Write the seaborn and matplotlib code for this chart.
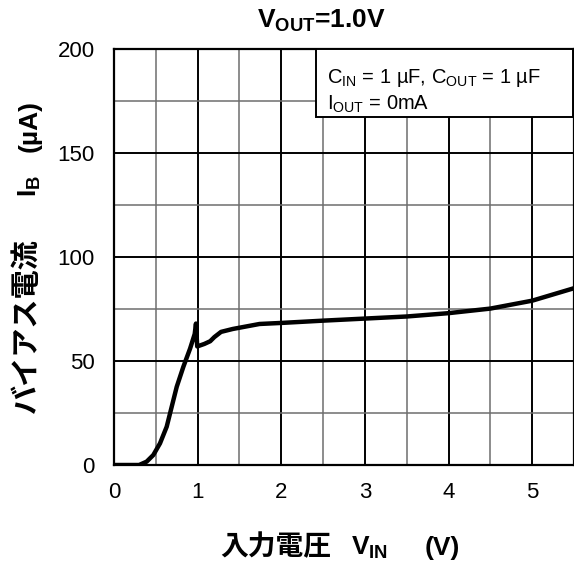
import matplotlib
matplotlib.use("Agg")
import matplotlib.pyplot as plt
import seaborn as sns
import pandas as pd
from matplotlib.ticker import MultipleLocator
from matplotlib.patches import Rectangle

# ---- data ----
vin = [0, 0.3, 0.39, 0.47, 0.55, 0.63, 0.69, 0.75, 0.83, 0.91, 0.965, 0.98, 0.995,
       1.08, 1.15, 1.2, 1.28, 1.42, 1.74, 2.0, 2.5, 3.0, 3.5, 4.0, 4.5, 5.0, 5.5]
ib = [0, 0, 1.6, 4.8, 10.4, 18.4, 28, 37.6, 47.3, 56, 63, 68, 57,
      58.2, 59.5, 61.5, 64, 65.4, 67.8, 68.3, 69.4, 70.4, 71.4, 73, 75.2, 79, 85]
x_ticks = [0, 1, 2, 3, 4, 5]
y_ticks = [0, 50, 100, 150, 200]

sns.set_theme(style="white")
plt.rcParams['font.family'] = ['Liberation Sans', 'DejaVu Sans']
plt.rcParams['mathtext.fontset'] = 'custom'
plt.rcParams['mathtext.rm'] = 'Liberation Sans'
plt.rcParams['mathtext.bf'] = 'Liberation Sans:bold'
plt.rcParams['mathtext.default'] = 'regular'

df = pd.DataFrame({"vin": vin, "ib": ib})

W, H = 574, 565
fig = plt.figure(figsize=(W / 100, H / 100), dpi=100)
ax = fig.add_axes([114 / W, 1 - 465 / H, 460 / W, 416 / H])

sns.lineplot(data=df, x="vin", y="ib", sort=False, ax=ax, color="black",
             linewidth=3.2, zorder=5, solid_joinstyle="round", solid_capstyle="round")

ax.set_xlim(0, 5.5)
ax.set_ylim(0, 200)
ax.set_xticks(x_ticks)
ax.set_yticks(y_ticks)
ax.xaxis.set_minor_locator(MultipleLocator(0.5))
ax.yaxis.set_minor_locator(MultipleLocator(25))
ax.grid(which='major', color='black', linewidth=1.4)
ax.grid(which='minor', color='#6e6e6e', linewidth=1.1)
ax.set_axisbelow(True)
ax.tick_params(which='both', length=0)
ax.tick_params(axis='x', pad=12, labelsize=16, labelcolor='black')
ax.tick_params(axis='y', pad=14, labelsize=16, labelcolor='black')
ax.set_xlabel("")
ax.set_ylabel("")
for s in ax.spines.values():
    s.set_color('black')
    s.set_linewidth(1.6)
    s.set_visible(True)

# annotation box
ax.add_patch(Rectangle((0.44, 0.836), 0.557, 0.164, transform=ax.transAxes,
                       facecolor='white', edgecolor='black', linewidth=1.4, zorder=6,
                       clip_on=False))
ax.text(0.463, 0.930, "C$_{IN}$ = 1 µF, C$_{OUT}$ = 1 µF", transform=ax.transAxes,
        fontsize=14.5, va='center', ha='left', zorder=7, color='black')
ax.text(0.463, 0.866, "I$_{OUT}$ = 0mA", transform=ax.transAxes,
        fontsize=14.5, va='center', ha='left', zorder=7, color='black')

# title
fig.text(321 / W, 1 - 28 / H, "V$_{OUT}$=1.0V", ha='center', va='baseline',
         fontsize=19, fontweight='bold', color='black')

# x label pieces
cjk = ['Noto Sans CJK JP', 'DejaVu Sans']
fig.text(220 / W, 1 - 555 / H, "入力電圧", ha='left', va='baseline',
         fontsize=20, fontweight='bold', family=cjk, color='black')
fig.text(351 / W, 1 - 555 / H, "V$_{IN}$", ha='left', va='baseline',
         fontsize=19, fontweight='bold', color='black')
fig.text(425 / W, 1 - 555 / H, "(V)", ha='left', va='baseline',
         fontsize=19, fontweight='bold', color='black')

# y label pieces (rotated)
fig.text(35 / W, 1 - 413 / H, "バイアス電流", ha='left', va='baseline', rotation=90,
         rotation_mode='anchor', fontsize=21, fontweight='bold', family=cjk, color='black')
fig.text(37 / W, 1 - 197 / H, "I$_{B}$", ha='left', va='baseline', rotation=90,
         rotation_mode='anchor', fontsize=19, fontweight='bold', color='black')
fig.text(37 / W, 1 - 152 / H, "(µA)", ha='left', va='baseline', rotation=90,
         rotation_mode='anchor', fontsize=19, fontweight='bold', color='black')

fig.savefig("out.png", dpi=100)
